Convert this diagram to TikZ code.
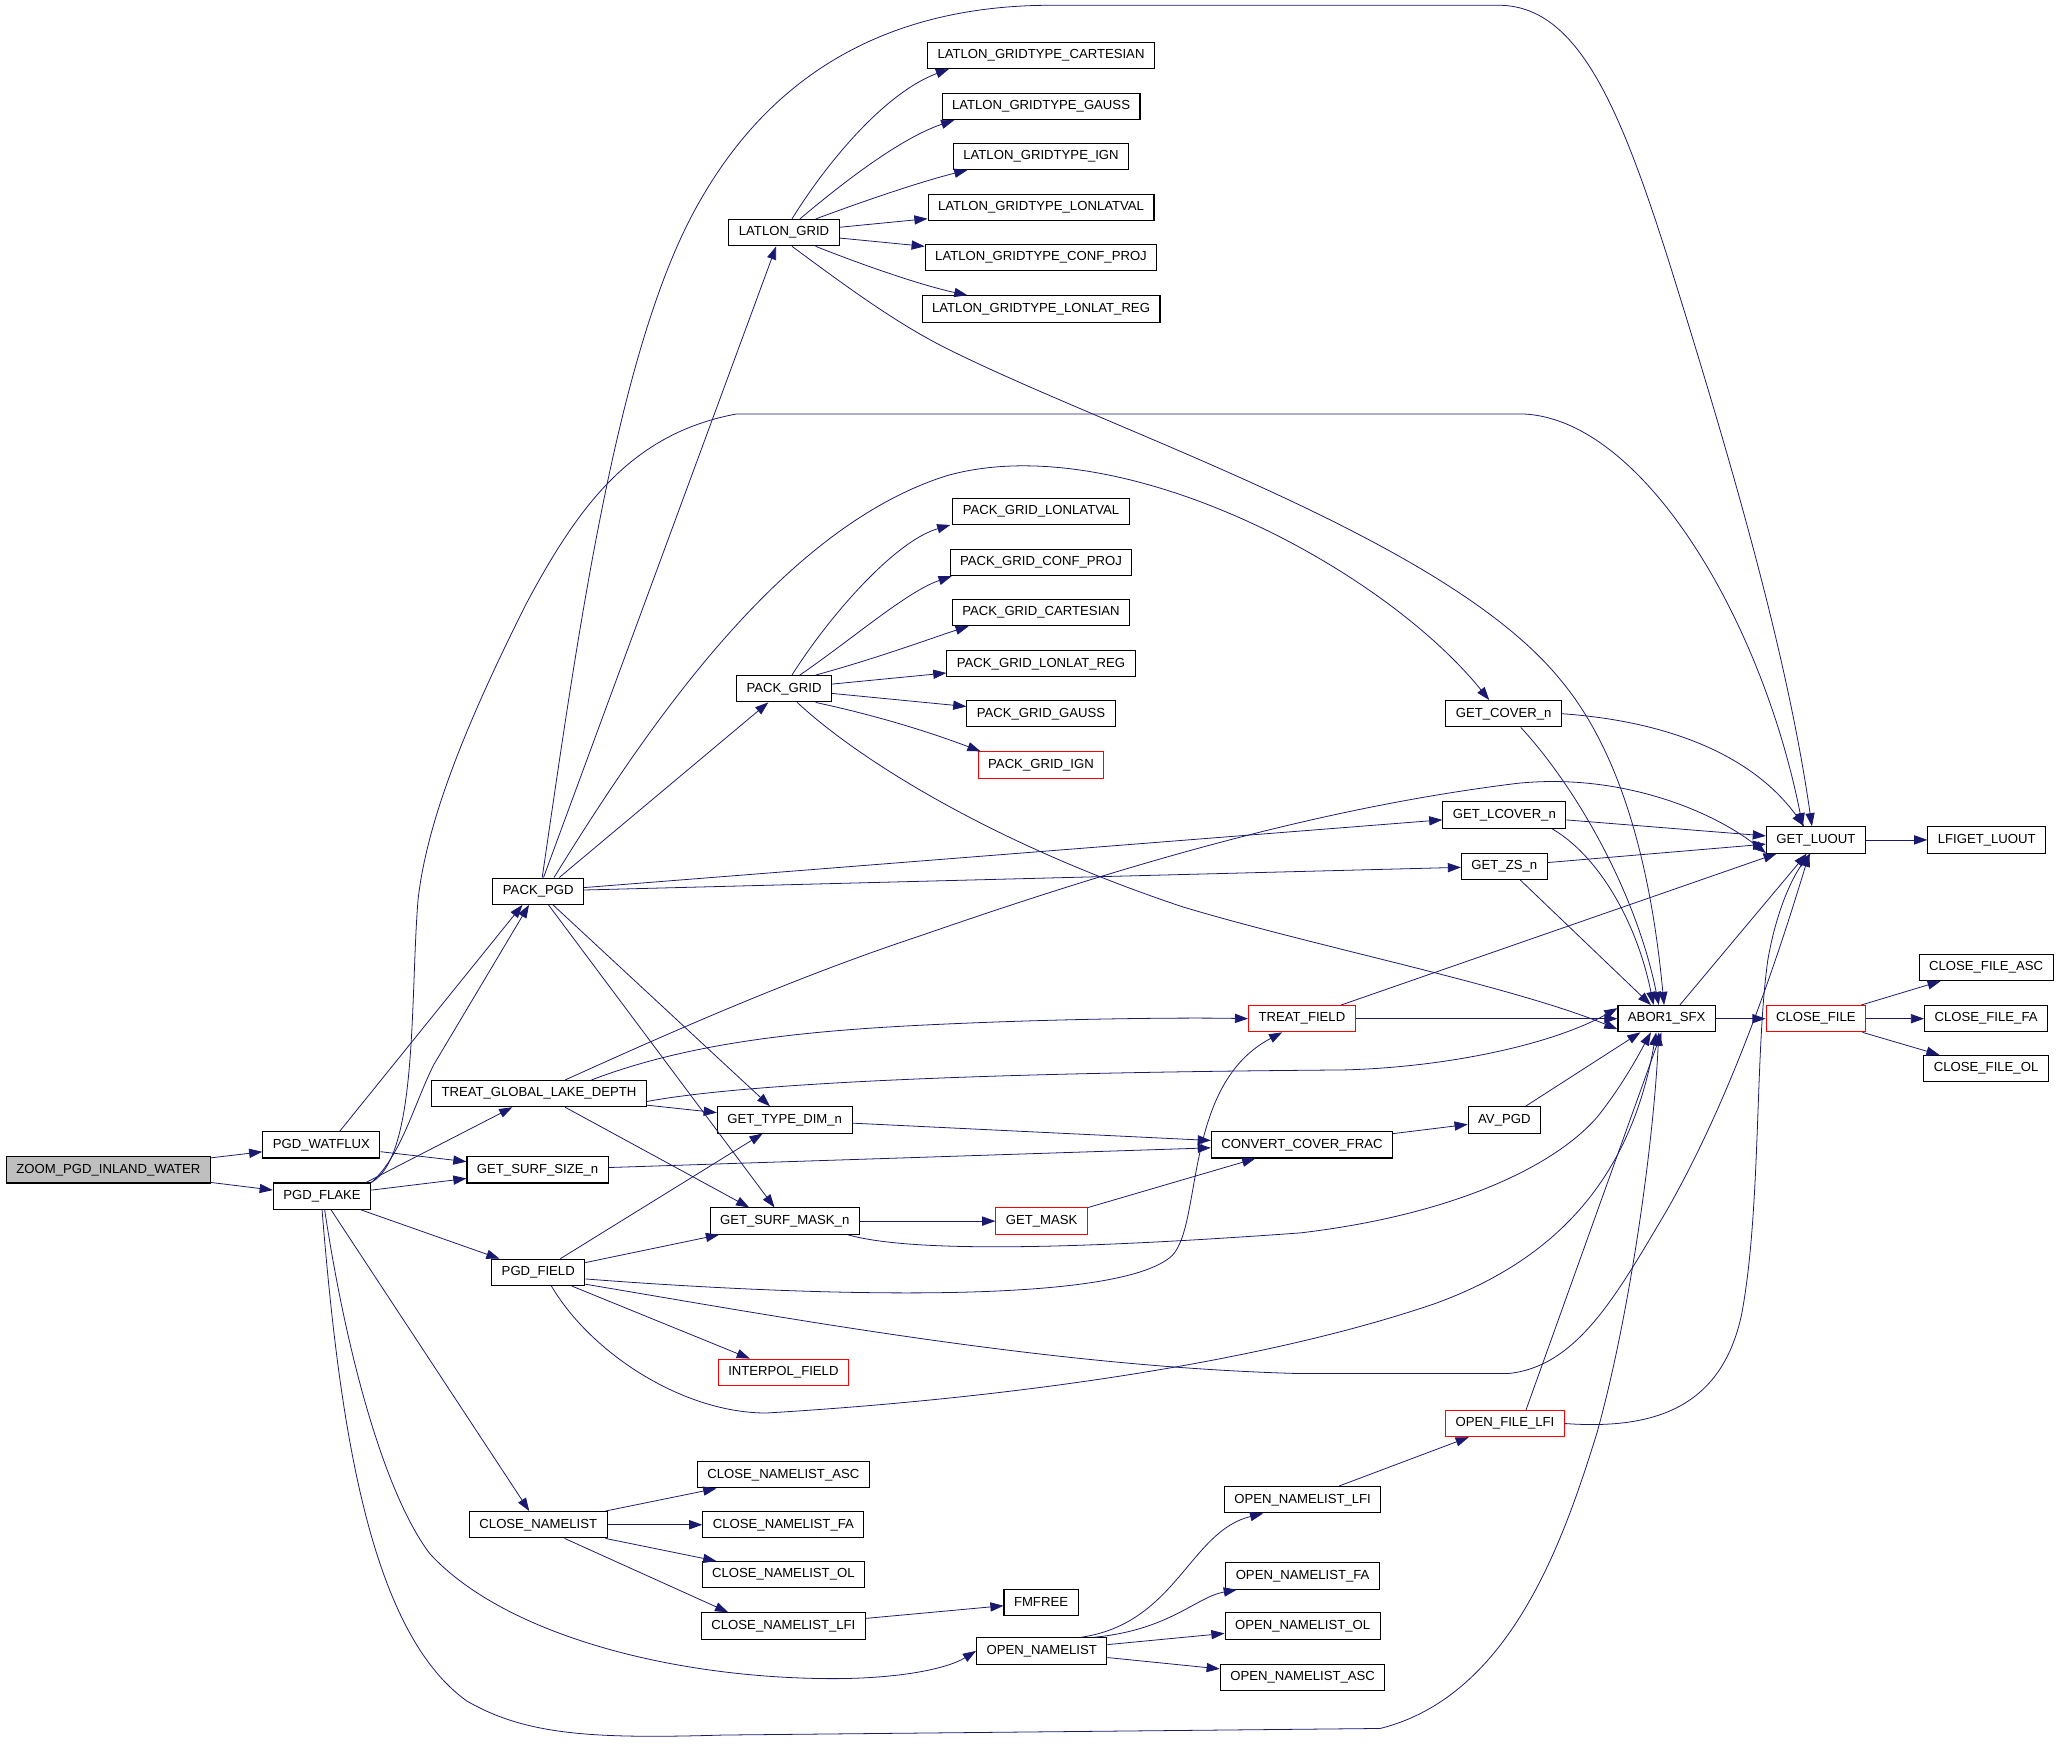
\documentclass[tikz,border=0pt]{standalone}
\usepackage{fontspec}
\setmainfont{Liberation Sans}
\usetikzlibrary{arrows.meta}
\definecolor{edgeblue}{HTML}{191970}
\definecolor{rootgray}{HTML}{BFBFBF}

\begin{document}
\begin{tikzpicture}[x=1pt,y=-1pt,
    fn/.style={draw=black, line width=0.8pt, fill=white, minimum height=20pt,
      inner xsep=7.6pt, inner ysep=0pt, font=\fontsize{10}{12}\selectfont},
    fnred/.style={fn, draw=red},
    fnroot/.style={fn, fill=rootgray},
    call/.style={draw=edgeblue, line width=0.6pt, -{Triangle[length=10pt,width=7pt]}}]
    \useasboundingbox (0,0) rectangle (1568,1327.6);

    \node[fnroot] (zoom) at (82.5,890) {ZOOM\_PGD\_INLAND\_WATER};
    \node[fn] (watflux) at (244.5,871) {PGD\_WATFLUX};
    \node[fn] (flake) at (245,910) {PGD\_FLAKE};
    \node[fn] (packpgd) at (409.5,678) {PACK\_PGD};
    \node[fn] (tgld) at (410,832) {TREAT\_GLOBAL\_LAKE\_DEPTH};
    \node[fn] (surfsize) at (409,890) {GET\_SURF\_SIZE\_n};
    \node[fn] (pgdfield) at (409.5,968) {PGD\_FIELD};
    \node[fn] (closenl) at (409.5,1160) {CLOSE\_NAMELIST};
    \node[fn] (latlon) at (596.5,177) {LATLON\_GRID};
    \node[fn] (lgcart) at (792,42) {LATLON\_GRIDTYPE\_CARTESIAN};
    \node[fn] (lggauss) at (792,81) {LATLON\_GRIDTYPE\_GAUSS};
    \node[fn] (lgign) at (792,119) {LATLON\_GRIDTYPE\_IGN};
    \node[fn] (lglonlatval) at (792,158) {LATLON\_GRIDTYPE\_LONLATVAL};
    \node[fn] (lgconf) at (792,196) {LATLON\_GRIDTYPE\_CONF\_PROJ};
    \node[fn] (lgreg) at (792,235) {LATLON\_GRIDTYPE\_LONLAT\_REG};
    \node[fn] (packgrid) at (596.5,524) {PACK\_GRID};
    \node[fn] (pglonlatval) at (792,389) {PACK\_GRID\_LONLATVAL};
    \node[fn] (pgconf) at (792,428) {PACK\_GRID\_CONF\_PROJ};
    \node[fn] (pgcart) at (792,466) {PACK\_GRID\_CARTESIAN};
    \node[fn] (pgreg) at (792,505) {PACK\_GRID\_LONLAT\_REG};
    \node[fn] (pggauss) at (792,543) {PACK\_GRID\_GAUSS};
    \node[fnred] (pgign) at (792,582) {PACK\_GRID\_IGN};
    \node[fn] (typedim) at (597,852) {GET\_TYPE\_DIM\_n};
    \node[fn] (surfmask) at (597,929) {GET\_SURF\_MASK\_n};
    \node[fnred] (interpol) at (596,1044) {INTERPOL\_FIELD};
    \node[fn] (cnasc) at (596,1122) {CLOSE\_NAMELIST\_ASC};
    \node[fn] (cnfa) at (596,1160) {CLOSE\_NAMELIST\_FA};
    \node[fn] (cnol) at (596,1198) {CLOSE\_NAMELIST\_OL};
    \node[fn] (cnlfi) at (596,1237) {CLOSE\_NAMELIST\_LFI};
    \node[fn] (fmfree) at (792,1219) {FMFREE};
    \node[fn] (opennl) at (792.5,1256) {OPEN\_NAMELIST};
    \node[fnred] (getmask) at (792.5,929) {GET\_MASK};
    \node[fnred] (treatfield) at (990.5,775) {TREAT\_FIELD};
    \node[fn] (ccf) at (990.5,871) {CONVERT\_COVER\_FRAC};
    \node[fn] (onlfi) at (991,1141) {OPEN\_NAMELIST\_LFI};
    \node[fn] (onfa) at (991,1199) {OPEN\_NAMELIST\_FA};
    \node[fn] (onol) at (991,1237) {OPEN\_NAMELIST\_OL};
    \node[fn] (onasc) at (991,1276) {OPEN\_NAMELIST\_ASC};
    \node[fn] (getcover) at (1144,543) {GET\_COVER\_n};
    \node[fn] (getlcover) at (1144.5,620) {GET\_LCOVER\_n};
    \node[fn] (getzs) at (1144.5,659) {GET\_ZS\_n};
    \node[fn] (avpgd) at (1144.5,852) {AV\_PGD};
    \node[fnred] (openfile) at (1145,1083) {OPEN\_FILE\_LFI};
    \node[fn] (abor) at (1268,775) {ABOR1\_SFX};
    \node[fn] (luout) at (1381.5,639) {GET\_LUOUT};
    \node[fnred] (closefile) at (1381.5,775) {CLOSE\_FILE};
    \node[fn] (lfiget) at (1511.5,639) {LFIGET\_LUOUT};
    \node[fn] (cfasc) at (1511,736) {CLOSE\_FILE\_ASC};
    \node[fn] (cffa) at (1511,775) {CLOSE\_FILE\_FA};
    \node[fn] (cfol) at (1511,813) {CLOSE\_FILE\_OL};

    \draw[call] (zoom) -- (watflux);
    \draw[call] (zoom) -- (flake);
    \draw[call] ([xshift=14pt]watflux.north) -- ([xshift=-12pt]packpgd.south);
    \draw[call] (watflux) -- (surfsize);
    \draw[call] (flake.north east) .. controls (305,880) and (315,840) .. (330,810) -- ([xshift=-7pt]packpgd.south);
    \draw[call] ([xshift=-4pt]flake.north east) -- (tgld);
    \draw[call] (flake) -- (surfsize);
    \draw[call] (flake) -- (pgdfield);
    \draw[call] (flake) -- (closenl);
    \draw[call] (flake.north east) .. controls (318,880) and (312,760) .. (318,685) .. controls (325,620) and (360,540) .. (400,460) .. controls (440,385) and (480,330) .. (560,315) -- (1160,315) .. controls (1250,320) and (1340,470) .. ([xshift=-10pt]luout.north);
    \draw[call] ([xshift=2pt]flake.south) .. controls (265,1040) and (295,1140) .. (327,1182) .. controls (380,1240) and (500,1275) .. (624,1277) .. controls (680,1278) and (720,1270) .. (opennl.west);
    \draw[call] (flake.south) .. controls (258,1080) and (280,1240) .. (355,1294) .. controls (400,1320) and (450,1323) .. (550,1320) -- (1050,1315) .. controls (1150,1290) and (1190,1170) .. (1215,1090) .. controls (1240,1000) and (1258,870) .. ([xshift=-6pt]abor.south);

    \draw[call] ([xshift=3pt]packpgd.north) .. controls (440,480) and (470,260) .. (533,152) .. controls (580,70) and (660,4) .. (800,4) -- (1140,4) .. controls (1200,4) and (1232,80) .. (1270,200) .. controls (1320,360) and (1360,500) .. ([xshift=-3pt]luout.north);
    \draw[call] ([xshift=4pt]packpgd.north) -- ([xshift=-6pt]latlon.south);
    \draw[call] ([xshift=12pt]packpgd.north) .. controls (500,540) and (600,400) .. (720,362) .. controls (850,325) and (1050,430) .. ([xshift=-11pt]getcover.north);
    \draw[call] ([xshift=16pt]packpgd.north) -- ([xshift=-12pt]packgrid.south);
    \draw[call] (packpgd) -- (getlcover);
    \draw[call] (packpgd) -- (getzs);
    \draw[call] (packpgd) -- (typedim);
    \draw[call] (packpgd) -- (surfmask);

    \draw[call] ([xshift=6pt]latlon.north) .. controls (625,130) and (670,72) .. ([xshift=-70pt]lgcart.south);
    \draw[call] ([xshift=12pt]latlon.north) .. controls (640,140) and (685,105) .. ([xshift=-66pt]lggauss.south);
    \draw[call] ([xshift=24pt]latlon.north) .. controls (665,150) and (705,137) .. ([xshift=-56pt]lgign.south);
    \draw[call] (latlon) -- (lglonlatval);
    \draw[call] (latlon) -- (lgconf);
    \draw[call] ([xshift=24pt]latlon.south) .. controls (665,205) and (705,218) .. ([xshift=-56pt]lgreg.north);
    \draw[call] ([xshift=6pt]latlon.south) .. controls (640,215) and (680,245) .. (720,265) .. controls (850,330) and (1100,410) .. (1187,517) .. controls (1240,580) and (1258,680) .. ([xshift=-2pt]abor.north);

    \draw[call] ([xshift=6pt]packgrid.north) .. controls (630,470) and (680,412) .. ([xshift=-69pt]pglonlatval.south);
    \draw[call] ([xshift=12pt]packgrid.north) .. controls (650,485) and (690,450) .. ([xshift=-68pt]pgconf.south);
    \draw[call] ([xshift=24pt]packgrid.north) .. controls (670,500) and (710,485) .. ([xshift=-55pt]pgcart.south);
    \draw[call] (packgrid) -- (pgreg);
    \draw[call] (packgrid) -- (pggauss);
    \draw[call] ([xshift=24pt]packgrid.south) .. controls (670,545) and (710,558) .. ([xshift=-46pt]pgign.north);
    \draw[call] ([xshift=10pt]packgrid.south) .. controls (650,575) and (750,640) .. (900,690) .. controls (1000,720) and (1150,750) .. ([yshift=-8pt]abor.west);

    \draw[call] ([xshift=20pt]tgld.north) .. controls (500,790) and (600,745) .. (700,712) .. controls (850,660) and (1000,615) .. (1154,596) .. controls (1230,588) and (1300,615) .. ([yshift=-10pt]luout.west);
    \draw[call] ([xshift=40pt]tgld.north) .. controls (520,795) and (600,785) .. (700,780) .. controls (800,775) and (900,774) .. (treatfield.west);
    \draw[call] ([yshift=-6pt]tgld.east) .. controls (600,818) and (900,815) .. (1022,814) .. controls (1100,812) and (1180,795) .. ([yshift=8pt]abor.west);
    \draw[call] (tgld) -- (typedim);
    \draw[call] ([xshift=20pt]tgld.south) -- ([xshift=-27pt]surfmask.north);

    \draw[call] (surfsize) -- (ccf);
    \draw[call] (typedim) -- (ccf);
    \draw[call] (surfmask) -- (getmask);
    \draw[call] ([xshift=48pt]surfmask.south) .. controls (700,955) and (850,948) .. (989,938) .. controls (1100,925) and (1180,890) .. (1215,850) .. controls (1235,825) and (1248,800) .. ([xshift=-12pt]abor.south);
    \draw[call] (getmask) -- (ccf);
    \draw[call] (ccf) -- (avpgd);
    \draw[call] (avpgd) -- ([xshift=-20pt]abor.south);

    \draw[call] (pgdfield) -- (typedim);
    \draw[call] (pgdfield) -- (surfmask);
    \draw[call] (pgdfield) -- (interpol);
    \draw[call] ([yshift=-5pt]pgdfield.east) .. controls (600,985) and (850,995) .. (892,955) .. controls (915,930) and (900,825) .. ([xshift=-15pt]treatfield.south);
    \draw[call] ([xshift=10pt]pgdfield.south) .. controls (450,1030) and (520,1075) .. (583,1075) .. controls (750,1065) and (950,1040) .. (1091,992) .. controls (1180,960) and (1240,900) .. ([xshift=-8pt]abor.south);
    \draw[call] ([yshift=-9pt]pgdfield.east) .. controls (600,1003) and (800,1040) .. (989,1045) -- (1147,1045) .. controls (1200,1040) and (1230,985) .. (1268,921) .. controls (1320,830) and (1355,720) .. ([xshift=-5pt]luout.south);

    \draw[call] (treatfield) -- (abor);
    \draw[call] (treatfield) -- (luout);
    \draw[call] (getcover.east) .. controls (1260,548) and (1330,570) .. ([xshift=-9pt]luout.north);
    \draw[call] ([xshift=13pt]getcover.south) .. controls (1200,600) and (1245,680) .. ([xshift=-6pt]abor.north);
    \draw[call] (getlcover) -- (luout);
    \draw[call] ([xshift=36pt]getlcover.south) .. controls (1215,650) and (1245,700) .. ([xshift=-10pt]abor.north);
    \draw[call] (getzs) -- (luout);
    \draw[call] ([xshift=12pt]getzs.south) -- ([xshift=-12pt]abor.north);
    \draw[call] ([xshift=10pt]abor.north) -- ([xshift=-7pt]luout.south);
    \draw[call] (abor) -- (closefile);
    \draw[call] (luout) -- (lfiget);
    \draw[call] (closefile) -- (cfasc);
    \draw[call] (closefile) -- (cffa);
    \draw[call] (closefile) -- (cfol);

    \draw[call] (closenl) -- (cnasc);
    \draw[call] (closenl) -- (cnfa);
    \draw[call] (closenl) -- (cnol);
    \draw[call] ([xshift=20pt]closenl.south) -- ([xshift=-42pt]cnlfi.north);
    \draw[call] (cnlfi) -- (fmfree);

    \draw[call] ([xshift=30pt]opennl.north) .. controls (895,1235) and (905,1165) .. ([xshift=-30pt]onlfi.south);
    \draw[call] ([xshift=40pt]opennl.north) .. controls (890,1240) and (910,1215) .. ([xshift=-50pt]onfa.south);
    \draw[call] (opennl) -- (onol);
    \draw[call] (opennl) -- (onasc);
    \draw[call] (onlfi) -- (openfile);
    \draw[call] ([xshift=16pt]openfile.north) -- ([xshift=-4pt]abor.south);
    \draw[call] (openfile.east) .. controls (1260,1088) and (1310,1070) .. (1325,1000) .. controls (1340,920) and (1335,800) .. (1345,730) .. controls (1352,690) and (1365,665) .. ([xshift=-4pt]luout.south);
  \end{tikzpicture}
\end{document}
